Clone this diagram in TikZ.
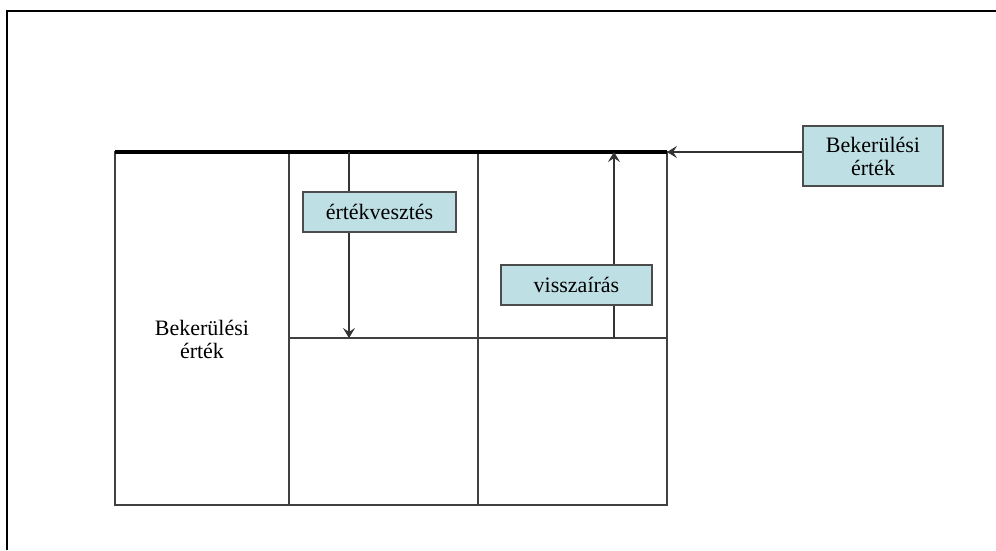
\documentclass[tikz,border=0pt]{standalone}
\usepackage{fontspec}
\setmainfont{Liberation Serif}
\usepackage{tikz}
\usetikzlibrary{arrows.meta}
\definecolor{boxfill}{RGB}{190,224,228}

\begin{document}
\begin{tikzpicture}[x=1pt,y=-1pt,
	label box/.style={draw=black!70,line width=1.2pt,fill=boxfill,inner sep=0pt,align=center,
		font=\fontsize{22}{23}\selectfont},
	grid line/.style={black!75,line width=1.8pt},
	flow/.style={black!80,line width=1.1pt,-{Stealth[length=10pt,width=12pt,inset=4pt]}}]
	\useasboundingbox (0,0) rectangle (996,550);
	\draw[line width=2pt] (7,550) -- (7,11) -- (996,11);
	% value table
	\draw[grid line] (115,152) rectangle (667,505);
	\foreach \x in {289,478} {
		\draw[grid line] (\x,152) -- (\x,505);
	}
	\draw[grid line] (289,338) -- (667,338);
	\draw[line width=3.2pt] (115,152) -- (667,152);
	\coordinate (top right) at (667,152);
	\coordinate (loss start) at (349,152);
	\coordinate (loss end) at (349,338);
	\coordinate (back start) at (614,338);
	\coordinate (back end) at (614,152);
	\draw[flow] (loss start) -- (loss end);
	\draw[flow] (back start) -- (back end);
	\node[align=center,font=\fontsize{22}{23}\selectfont] (cost left) at (202,339) {Bekerülési\\érték};
	\node[label box,minimum width=153,minimum height=40] (loss) at (379.5,212) {értékvesztés};
	\node[label box,minimum width=151,minimum height=40] (back) at (576.5,285) {visszaírás};
	\node[label box,minimum width=140,minimum height=60] (cost right) at (873,156) {Bekerülési\\érték};
	\draw[flow] (cost right.west |- top right) -- (top right);
\end{tikzpicture}
\end{document}
